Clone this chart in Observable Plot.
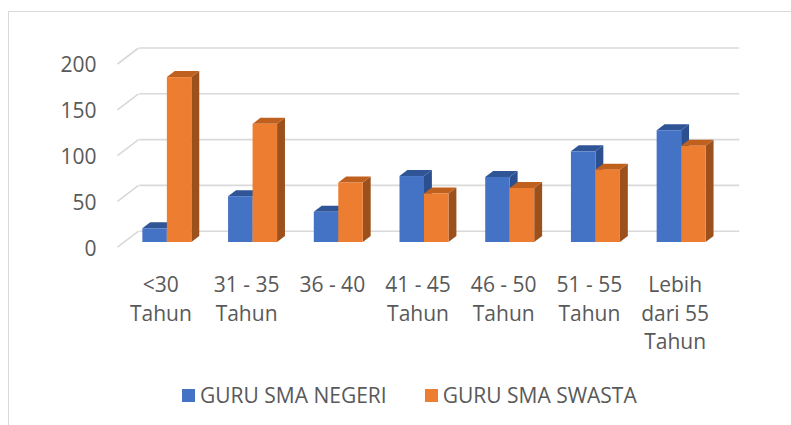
<!DOCTYPE html>
<html><head><meta charset="utf-8">
<script src="https://cdn.jsdelivr.net/npm/d3@7"></script>
<script src="https://cdn.jsdelivr.net/npm/@observablehq/plot@0.6"></script>
<style>
html,body{margin:0;padding:0;background:#fff;overflow:hidden;}
#wrap{position:relative;width:791px;height:425px;font-family:"Open Sans",sans-serif;}
#frame{position:absolute;left:8px;top:11px;width:900px;height:500px;border:1px solid #d9d9d9;box-sizing:border-box;}
#chart{position:absolute;left:0;top:0;}
#legend{position:absolute;left:0;top:370px;width:791px;height:50px;display:flex;align-items:center;padding-left:182px;box-sizing:border-box;font-size:21px;color:#595959;}
.sw{width:13px;height:13px;display:inline-block;margin-right:5px;}
.item{display:flex;align-items:center;margin-right:38px;white-space:nowrap;}
</style></head>
<body><div id="wrap"><div id="frame"></div><div id="chart"></div><div id="legend"></div></div>
<script>
const categories = ["<30\nTahun","31 - 35\nTahun","36 - 40","41 - 45\nTahun","46 - 50\nTahun","51 - 55\nTahun","Lebih\ndari 55\nTahun"];
const negeri = [15, 50, 33, 72, 71, 99, 122];
const swasta = [180, 129, 65, 53, 59, 79, 105];
const seriesNames = ["GURU SMA NEGERI", "GURU SMA SWASTA"];
const yTicks = [0, 50, 100, 150, 200];
const frontColors = ["#4472c4", "#ed7d31"];
const topColors = ["#2f5597", "#c0601f"];
const sideColors = ["#2b4f8f", "#9c511d"];

// layout
const W = 791, H = 370, ML = 124, MR = 67, MT = 58.8, MB = H - 242;
const KX = (W - ML - MR) / 7;      // px per category unit
const KY = (H - MT - MB) / 200;    // px per value unit
const barW = 24.5 / KX;
const bdx = 7.9 / KX, bdy = 6 / KY; // bar depth in data units

const series = [negeri, swasta];
const marks = [];

// back wall gridlines and side wall diagonals
const grid = yTicks.map(v => ({v, xa: -0.5, xb: 6.5, xc: -0.5 + 21 / KX, vb: v + 16 / KY}));
marks.push(Plot.link(grid, {x1: "xa", y1: "v", x2: "xb", y2: "v", dx: 14.8, dy: -11.3, stroke: "#d9d9d9", strokeWidth: 1.6}));
marks.push(Plot.link(grid, {x1: "xa", y1: "v", x2: "xc", y2: "vb", dx: -7, dy: 4.7, stroke: "#d9d9d9", strokeWidth: 1.6}));

series.forEach((vals, s) => {
  const bars = vals.map((v, i) => {
    const xl = s === 0 ? i - barW : i;
    return {id: i, v, zero: 0, xl, xr: xl + barW};
  });
  const side = bars.flatMap(b => [
    {id: b.id, x: b.xr, y1: 0, y2: b.v},
    {id: b.id, x: b.xr + bdx, y1: bdy, y2: b.v + bdy}
  ]);
  const top = bars.flatMap(b => [
    {id: b.id, y: b.v, x1: b.xl, x2: b.xr},
    {id: b.id, y: b.v + bdy, x1: b.xl + bdx, x2: b.xr + bdx}
  ]);
  marks.push(Plot.areaY(side, {x: "x", y1: "y1", y2: "y2", z: "id", fill: sideColors[s]}));
  marks.push(Plot.areaX(top, {y: "y", x1: "x1", x2: "x2", z: "id", fill: topColors[s]}));
  marks.push(Plot.rect(bars, {x1: "xl", x2: "xr", y1: "zero", y2: "v", fill: frontColors[s]}));
});

// y labels
marks.push(Plot.text(grid, {x: "xa", y: "v", text: d => String(d.v), textAnchor: "end", dx: -28, dy: 6.3, fontSize: 21, fill: "#595959"}));
// category labels
const catData = categories.map((c, i) => ({c, i, zero: 0}));
marks.push(Plot.text(catData, {x: "i", y: "zero", text: "c", lineAnchor: "top", lineHeight: 1.36, dx: -6.5, dy: 29.6, fontSize: 21, fill: "#595959"}));

const chart = Plot.plot({
  width: W, height: H,
  marginLeft: ML, marginRight: MR, marginTop: MT, marginBottom: MB,
  x: {domain: [-0.5, 6.5], axis: null},
  y: {domain: [0, 200], axis: null},
  style: {fontFamily: '"Open Sans", sans-serif', background: "transparent"},
  marks
});
document.getElementById("chart").appendChild(chart);

const legend = document.getElementById("legend");
seriesNames.forEach((name, s) => {
  const item = document.createElement("div");
  item.className = "item";
  const sw = document.createElement("span");
  sw.className = "sw";
  sw.style.background = frontColors[s];
  const t = document.createElement("span");
  t.textContent = name;
  item.appendChild(sw); item.appendChild(t);
  legend.appendChild(item);
});
</script>
</body></html>
